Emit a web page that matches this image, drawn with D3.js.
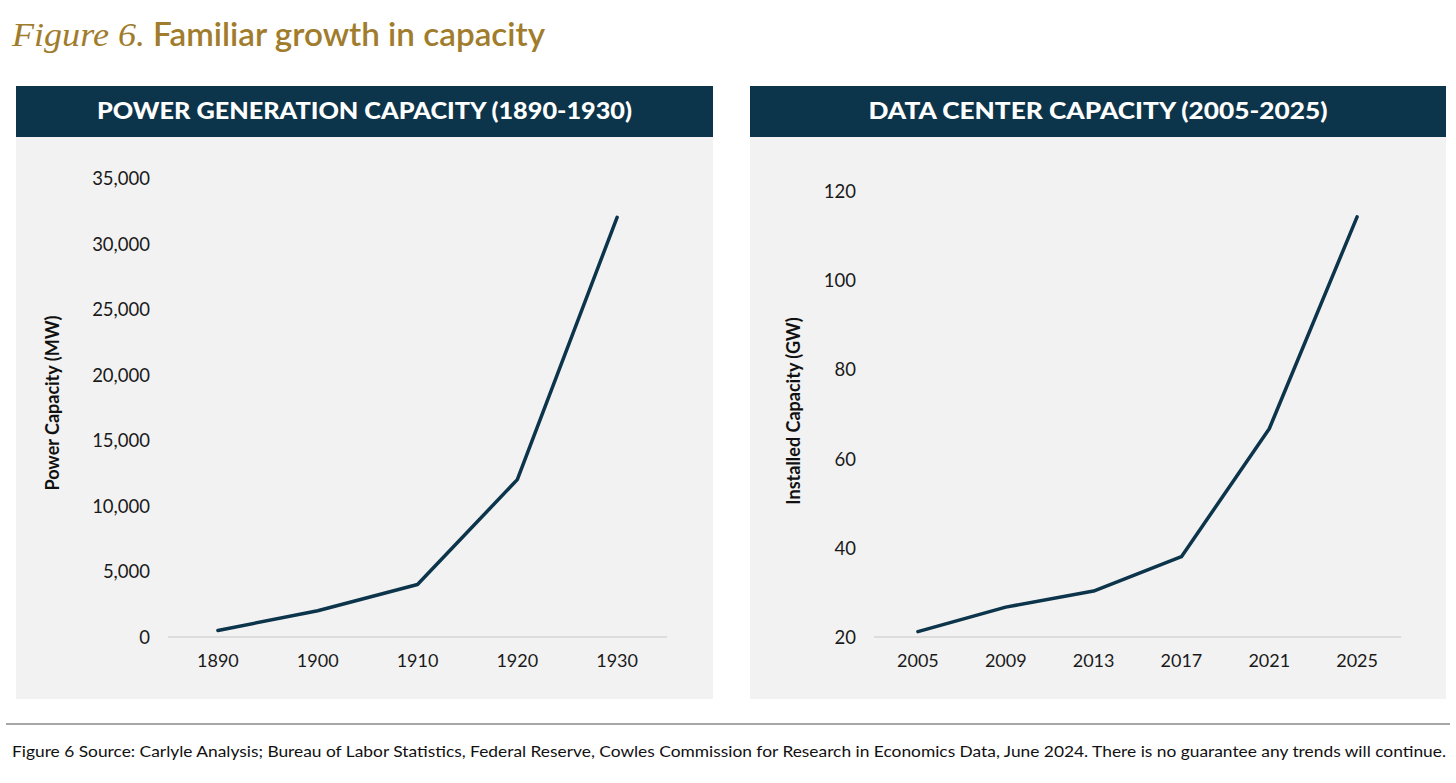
<!DOCTYPE html>
<html>
<head>
<meta charset="utf-8">
<script src="https://cdn.jsdelivr.net/npm/d3@7"></script>
<style>
  html, body { margin: 0; padding: 0; background: #ffffff; }
  svg { display: block; }
</style>
</head>
<body>
<svg id="chart" width="1456" height="783"></svg>
<script>
// ---- Data ----
const powerYears = ["1890", "1900", "1910", "1920", "1930"];
const powerValues = [500, 2000, 4000, 12000, 32000];
const powerTicks = [0, 5000, 10000, 15000, 20000, 25000, 30000, 35000];

const dcYears = ["2005", "2009", "2013", "2017", "2021", "2025"];
const dcValues = [21.2, 26.7, 30.3, 38.0, 66.7, 114.2];
const dcTicks = [20, 40, 60, 80, 100, 120];

const titleItalic = "Figure 6.";
const titleMain = "Familiar growth in capacity";
const leftHeader = "POWER GENERATION CAPACITY (1890-1930)";
const rightHeader = "DATA CENTER CAPACITY (2005-2025)";
const leftYTitle = "Power Capacity (MW)";
const rightYTitle = "Installed Capacity (GW)";
const footnote = "Figure 6 Source: Carlyle Analysis; Bureau of Labor Statistics, Federal Reserve, Cowles Commission for Research in Economics Data, June 2024. There is no guarantee any trends will continue.";

// ---- Styles ----
const GOLD = "#a07c2c";
const NAVY = "#0c344a";
const PANEL = "#f2f2f2";
const SANS = "Lato, 'Open Sans', sans-serif";

const svg = d3.select("#chart");

// Title
svg.append("text").attr("x", 12).attr("y", 46)
  .attr("fill", GOLD).attr("font-size", 33)
  .attr("font-family", "'Liberation Serif', 'DejaVu Serif', serif")
  .attr("font-style", "italic")
  .attr("textLength", 133).attr("lengthAdjust", "spacingAndGlyphs")
  .text(titleItalic);
svg.append("text").attr("x", 153).attr("y", 46)
  .attr("fill", GOLD).attr("font-size", 32)
  .attr("font-family", SANS).attr("font-weight", 600)
  .attr("textLength", 392).attr("lengthAdjust", "spacingAndGlyphs")
  .text(titleMain);

function panel(cfg) {
  const g = svg.append("g");
  // panel background
  g.append("rect").attr("x", cfg.px).attr("y", 137).attr("width", cfg.pw).attr("height", 562)
    .attr("fill", PANEL);
  // header
  g.append("rect").attr("x", cfg.px).attr("y", 86).attr("width", cfg.pw).attr("height", 51)
    .attr("fill", NAVY);
  g.append("text").attr("x", cfg.px + cfg.pw / 2).attr("y", 119)
    .attr("text-anchor", "middle").attr("fill", "#ffffff")
    .attr("font-family", SANS).attr("font-weight", 900).attr("font-size", 22)
    .attr("textLength", cfg.headerLen).attr("lengthAdjust", "spacingAndGlyphs")
    .text(cfg.header);

  const x = d3.scaleBand().domain(cfg.cats).range([cfg.x0, cfg.x1]);
  const y = d3.scaleLinear().domain(cfg.ydom).range(cfg.yrange);

  // baseline
  g.append("line").attr("x1", cfg.x0).attr("x2", cfg.x1)
    .attr("y1", y(cfg.ydom[0])).attr("y2", y(cfg.ydom[0]))
    .attr("stroke", "#d4d4d4").attr("stroke-width", 1.5);

  // y axis
  const yAxis = d3.axisLeft(y).tickValues(cfg.ticks).tickSize(0).tickPadding(0)
    .tickFormat(cfg.fmt);
  const ya = g.append("g").attr("transform", `translate(${cfg.yLabelX},0)`).call(yAxis);
  ya.select(".domain").remove();
  ya.selectAll("text").attr("font-family", SANS).attr("font-size", 18.5).attr("fill", "#1a1a1a")
    .attr("dy", "0.35em");

  // x axis
  const xAxis = d3.axisBottom(x).tickSize(0).tickPadding(0);
  const xa = g.append("g").attr("transform", `translate(0,${cfg.xLabelY})`).call(xAxis);
  xa.select(".domain").remove();
  xa.selectAll("text").attr("font-family", SANS).attr("font-size", 18).attr("fill", "#1a1a1a")
    .attr("dy", "0.35em");

  // y title
  g.append("text").attr("transform", `translate(${cfg.titleX},${cfg.titleY}) rotate(-90)`)
    .attr("text-anchor", "middle").attr("font-family", SANS).attr("font-weight", 700)
    .attr("font-size", 18).attr("fill", "#111").text(cfg.ytitle);

  // line
  const line = d3.line()
    .x((d, i) => x(cfg.cats[i]) + x.bandwidth() / 2)
    .y(d => y(d));
  g.append("path").datum(cfg.vals).attr("d", line)
    .attr("fill", "none").attr("stroke", NAVY).attr("stroke-width", 3.5)
    .attr("stroke-linejoin", "round").attr("stroke-linecap", "round");
}

panel({
  px: 16, pw: 697, header: leftHeader, headerLen: 535,
  cats: powerYears, vals: powerValues, ticks: powerTicks,
  x0: 168, x1: 667, ydom: [0, 35000], yrange: [637, 178],
  fmt: d3.format(","), yLabelX: 150, xLabelY: 661,
  ytitle: leftYTitle, titleX: 59, titleY: 403
});

panel({
  px: 750, pw: 696, header: rightHeader, headerLen: 459,
  cats: dcYears, vals: dcValues, ticks: dcTicks,
  x0: 874, x1: 1401, ydom: [20, 120], yrange: [637, 191],
  fmt: d3.format("d"), yLabelX: 856, xLabelY: 661,
  ytitle: rightYTitle, titleX: 800, titleY: 411
});

// Footer rule and note
svg.append("line").attr("x1", 6).attr("x2", 1450).attr("y1", 724).attr("y2", 724)
  .attr("stroke", "#8a8a8a").attr("stroke-width", 1.5);
svg.append("text").attr("x", 12).attr("y", 757)
  .attr("font-family", SANS).attr("font-size", 15).attr("fill", "#111")
  .attr("textLength", 1434).attr("lengthAdjust", "spacingAndGlyphs")
  .text(footnote);
</script>
</body>
</html>
